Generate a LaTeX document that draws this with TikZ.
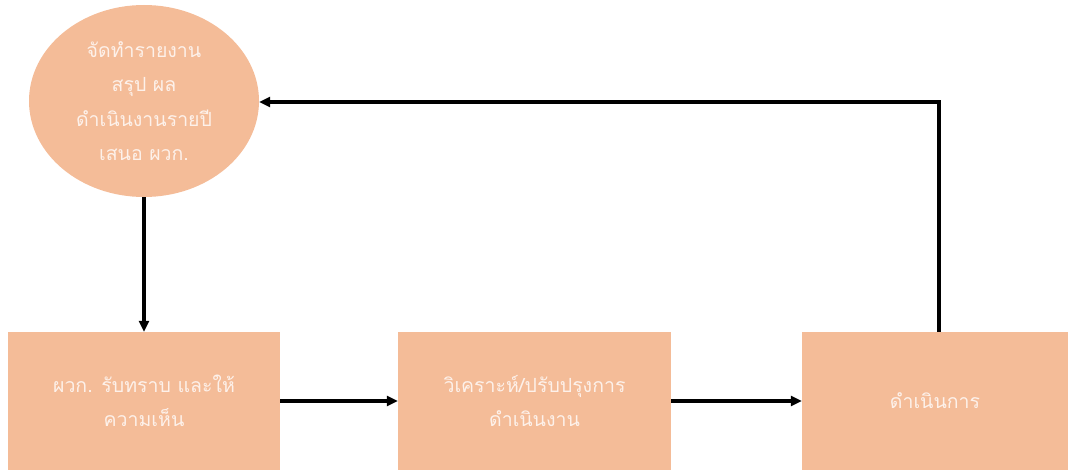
\documentclass[tikz,border=0pt]{standalone}
\usepackage{fontspec}
\newfontfamily\thaifont[Script=Thai]{Loma}
\usetikzlibrary{arrows.meta,shapes.geometric}
\definecolor{peach}{HTML}{F4BC98}
\definecolor{txt}{HTML}{FDF1EA}
\begin{document}
\begin{tikzpicture}[x=1pt,y=-1pt,
  blk/.style={fill=peach,draw=none,inner sep=0pt,text=txt,font=\thaifont\fontsize{19.5}{34.5}\selectfont,align=center},
  conn/.style={line width=3.4pt,-{Triangle[length=11pt,width=10pt]}}]
\useasboundingbox (0,0) rectangle (1068,470);
\node[blk,ellipse,minimum width=230,minimum height=192] (e) at (144,101) {จัดทำรายงาน\\สรุป ผล\\ดำเนินงานรายปี\\เสนอ ผวก.};
\node[blk,rectangle,minimum width=272,minimum height=138] (b1) at (144,401) {ผวก. รับทราบ และให้\\ความเห็น};
\node[blk,rectangle,minimum width=273,minimum height=138] (b2) at (534.5,401) {วิเคราะห์/ปรับปรุงการ\\ดำเนินงาน};
\node[blk,rectangle,minimum width=266,minimum height=138] (b3) at (935,401) {ดำเนินการ};
\coordinate (c) at (939,102);
\draw[conn] (e.south) -- (e.south |- b1.north);
\draw[conn] (b1.east) -- (b2.west);
\draw[conn] (b2.east) -- (b3.west);
\draw[conn] (b3.north -| c) -- (c) -- (e.east |- c);
\end{tikzpicture}
\end{document}
